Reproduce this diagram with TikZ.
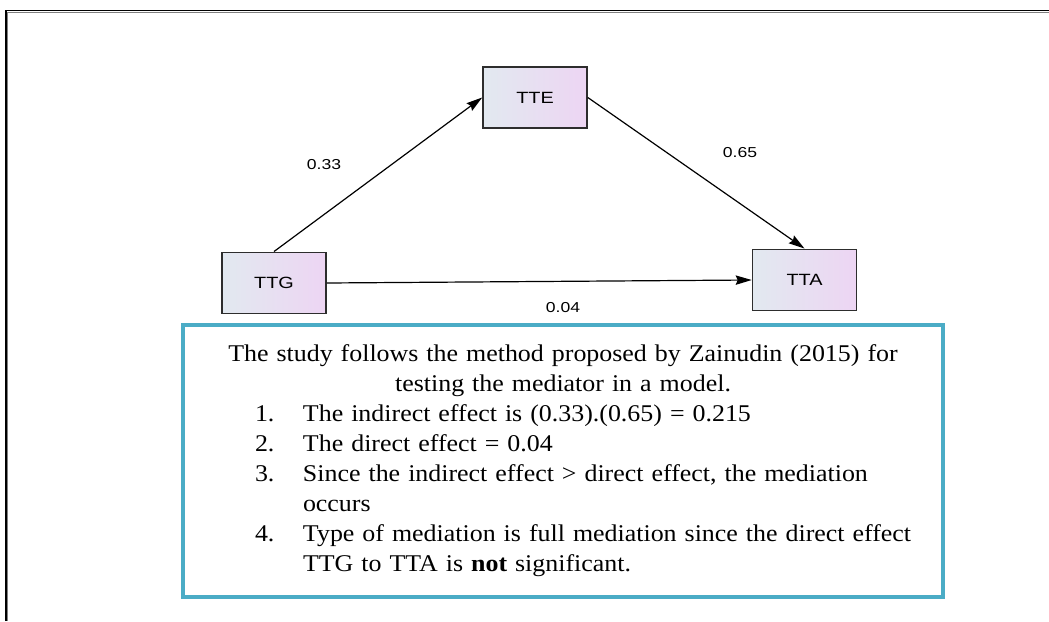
\documentclass[tikz,border=0pt]{standalone}
\usepackage{fontspec}
\setmainfont[FakeStretch=1.08]{Liberation Serif}
\newfontfamily\labelfont[FakeStretch=1.22]{Liberation Sans}
\usepackage{xcolor}
\usetikzlibrary{arrows.meta}

\definecolor{boxleft}{RGB}{226,233,240}
\definecolor{boxright}{RGB}{237,213,243}
\definecolor{boxline}{RGB}{45,45,45}
\definecolor{noteline}{RGB}{75,172,198}

\tikzset{
  varbox/.style={draw=boxline, line width=1.2pt, left color=boxleft, right color=boxright,
    minimum width=78pt, minimum height=46pt, inner sep=0pt,
    font=\labelfont\fontsize{12.2}{14}\selectfont},
  pathlabel/.style={inner sep=0pt, font=\labelfont\fontsize{10.8}{13}\selectfont},
  effect/.style={line width=0.9pt, -{Stealth[length=12pt,width=7pt,inset=1.5pt]}},
  notebox/.style={draw=noteline, line width=3.2pt, minimum width=570pt, minimum height=204pt,
    inner xsep=5pt, inner ysep=0pt, text width=560pt, align=left,
    font=\fontsize{18}{22.5}\selectfont}
}

\newcommand{\noteitem}[1]{\par\noindent\llap{\makebox[36pt][l]{#1}}}

\begin{document}
\begin{tikzpicture}[x=0.75pt,y=0.75pt,yscale=-1,xscale=1]
\useasboundingbox (0,0) rectangle (1049,621);

%Frame: top and left edge
\draw [line width=1.1pt, black] (6,621) -- (6,10.5) -- (1049,10.5) ;
\draw [line width=0.6pt, gray] (7.5,621) -- (7.5,12.5) -- (1049,12.5) ;

% Variables
\node [varbox] (tte) at (535,97.5) {TTE};
\node [varbox] (ttg) at (274,283) {TTG};
\node [varbox] (tta) at (804.5,280) {TTA};

% Paths
\draw [effect] (ttg.north) -- (tte.west) ;
\draw [effect] (tte.east) -- (tta.north) ;
\draw [effect] (ttg.east) -- (tta.west) ;

% Path coefficients
\node [pathlabel] (coefa) at (324,165) {0.33};
\node [pathlabel] (coefb) at (740,153) {0.65};
\node [pathlabel] (coefc) at (563,308) {0.04};

% Note box
\node [notebox] (note) at (563,461) {%
  {\centering The study follows the method proposed by Zainudin (2015) for\\
  testing the mediator in a model.\par}
  \raggedright \leftskip=85pt
  \noteitem{1.}The indirect effect is (0.33).(0.65) = 0.215
  \noteitem{2.}The direct effect = 0.04
  \noteitem{3.}Since the indirect effect > direct effect, the mediation\newline occurs
  \noteitem{4.}Type of mediation is full mediation since the direct effect\newline TTG to TTA is \textbf{not} significant.\par};

\end{tikzpicture}
\end{document}
